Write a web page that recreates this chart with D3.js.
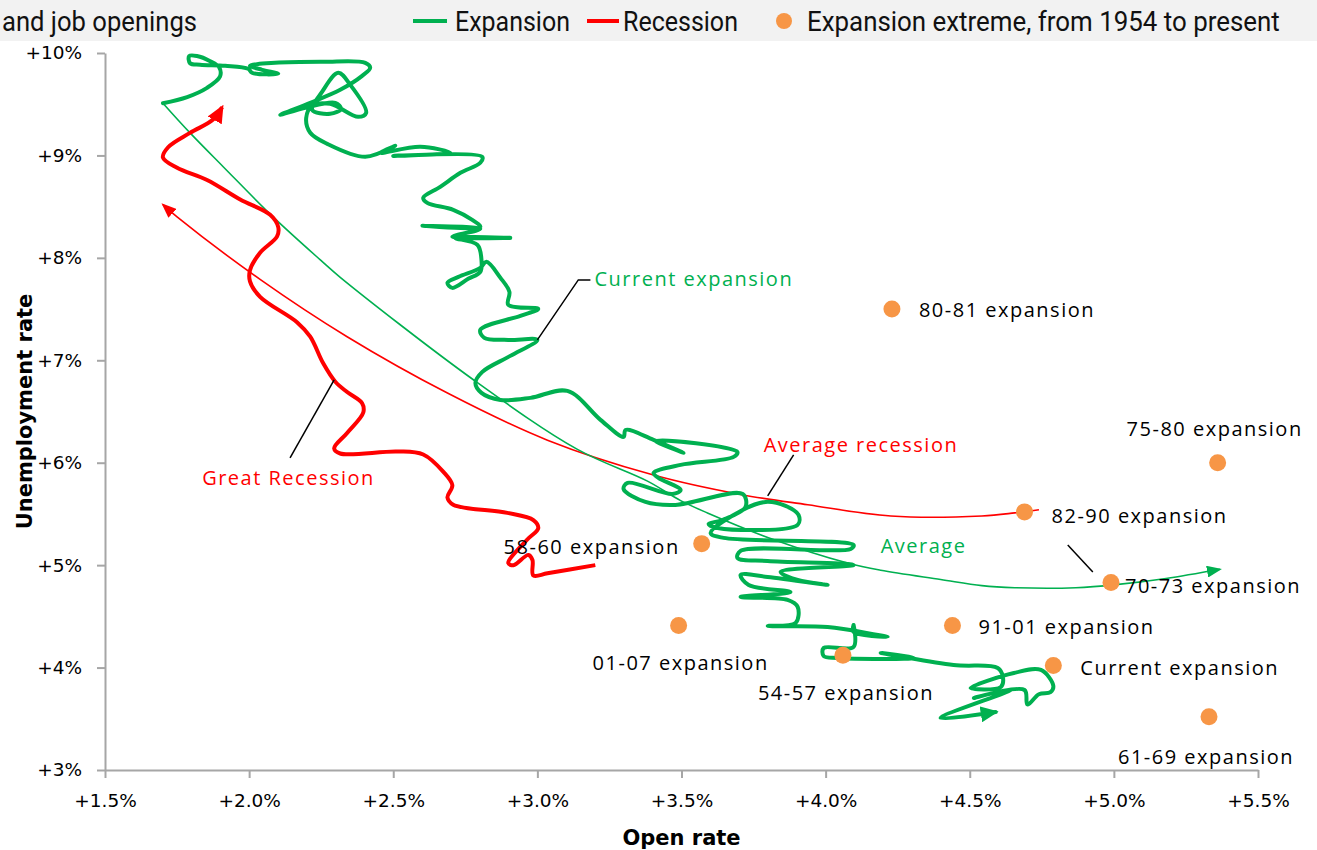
<!DOCTYPE html>
<html><head><meta charset="utf-8">
<script src="https://cdn.jsdelivr.net/npm/d3@7"></script>
<style>body{margin:0;background:#fff;} svg{display:block}</style>
</head><body><svg id="c" width="1317" height="850"></svg>
<script>
// ---------- DATA ----------
const titleText = "and job openings";
const xTicks = [1.5, 2.0, 2.5, 3.0, 3.5, 4.0, 4.5, 5.0, 5.5];
const yTicks = [3, 4, 5, 6, 7, 8, 9, 10];

// Expansion extremes (open rate %, unemployment rate %)
const extremeNames = ["80-81 expansion","75-80 expansion","82-90 expansion","58-60 expansion","70-73 expansion","01-07 expansion","91-01 expansion","54-57 expansion","Current expansion","61-69 expansion"];
const extremeOpen  = [4.23, 5.36, 4.69, 3.57, 4.99, 3.49, 4.44, 4.06, 4.79, 5.33];
const extremeUnemp = [7.50, 6.00, 5.52, 5.21, 4.83, 4.41, 4.41, 4.12, 4.02, 3.52];

// Average expansion
const avgOpen  = [1.701,1.795,1.910,2.083,2.247,2.316,2.778,3.139,3.382,3.497,3.590,3.819,4.076,4.191,4.399,4.542,4.656,4.868,5.007,5.181,5.368];
const avgUnemp = [9.51,9.22,8.89,8.40,7.98,7.81,6.81,6.13,5.82,5.63,5.51,5.25,5.02,4.95,4.86,4.80,4.78,4.78,4.81,4.87,4.96];

// Average recession
const avgRecOpen  = [4.740,4.656,4.542,4.226,3.938,3.705,3.403,3.035,2.688,2.340,2.038,1.750,1.701];
const avgRecUnemp = [5.54,5.51,5.48,5.48,5.59,5.69,5.88,6.22,6.68,7.23,7.79,8.40,8.52];

// Great Recession
const grOpen  = [3.201,3.035,2.986,2.983,2.969,2.917,2.899,2.965,3.003,2.986,2.896,2.708,2.688,2.705,2.674,2.604,2.514,2.316,2.295,2.340,2.396,2.392,2.340,2.299,2.257,2.212,2.167,2.038,2.003,2.003,2.038,2.097,2.101,2.073,1.969,1.854,1.750,1.701,1.719,1.795,1.875,1.906];
const grUnemp = [5.00,4.92,4.90,5.05,5.10,5.00,5.02,5.25,5.36,5.44,5.51,5.59,5.66,5.78,5.91,6.08,6.11,6.09,6.14,6.29,6.49,6.58,6.69,6.79,6.97,7.23,7.37,7.62,7.77,7.88,8.05,8.21,8.30,8.42,8.57,8.76,8.88,8.98,9.08,9.22,9.35,9.47];

// Current expansion
const curOpen = [1.701,1.785,1.854,1.899,1.896,1.865,1.819,1.792,1.795,1.830,1.917,1.997,2.010,2.101,2.045,2.003,2.090,2.257,2.403,2.420,2.392,2.316,2.212,2.108,2.194,2.299,2.319,2.281,2.219,2.253,2.309,2.351,2.406,2.378,2.281,2.219,2.198,2.212,2.271,2.403,2.507,2.455,2.594,2.698,2.500,2.809,2.802,2.733,2.663,2.604,2.618,2.708,2.774,2.802,2.601,2.802,2.705,2.906,2.715,2.792,2.806,2.802,2.760,2.705,2.688,2.726,2.802,2.823,2.872,2.903,2.899,3.003,2.941,2.802,2.816,2.899,3.000,2.906,2.809,2.785,2.806,2.872,2.976,3.104,3.219,3.299,3.306,3.403,3.507,3.410,3.694,3.681,3.497,3.403,3.420,3.497,3.469,3.313,3.299,3.375,3.479,3.712,3.722,3.642,3.594,3.625,3.903,3.906,3.861,3.792,3.712,3.601,3.646,4.097,4.087,3.705,3.694,3.799,4.097,3.844,3.903,4.007,3.799,3.705,3.733,3.878,3.705,3.868,3.903,3.896,3.799,4.007,4.215,4.097,4.097,4.097,3.993,3.993,4.042,4.306,4.191,4.444,4.597,4.615,4.608,4.503,4.653,4.747,4.790,4.780,4.740,4.700,4.690,4.514,4.642,4.399,4.590];
const curUnemp = [9.51,9.57,9.66,9.77,9.86,9.92,9.97,9.97,9.90,9.885,9.875,9.846,9.807,9.797,9.836,9.875,9.904,9.914,9.904,9.856,9.777,9.641,9.514,9.396,9.465,9.514,9.455,9.406,9.445,9.621,9.807,9.689,9.416,9.377,9.504,9.484,9.367,9.221,9.113,8.986,9.094,9.025,9.084,9.025,8.996,8.986,8.928,8.830,8.693,8.586,8.537,8.469,8.371,8.303,8.313,8.283,8.205,8.195,8.195,8.127,7.980,7.863,7.795,7.707,7.756,7.814,7.902,7.961,7.805,7.668,7.541,7.502,7.434,7.297,7.219,7.199,7.199,7.043,6.887,6.779,6.682,6.613,6.633,6.701,6.418,6.252,6.320,6.223,6.096,6.213,6.105,6.057,5.979,5.900,5.852,5.734,5.695,5.803,5.744,5.617,5.588,5.695,5.568,5.441,5.402,5.363,5.393,5.490,5.578,5.617,5.539,5.314,5.266,5.197,5.158,5.139,5.070,5.041,5.002,4.934,4.855,4.807,4.885,4.904,4.807,4.738,4.689,4.660,4.592,4.436,4.406,4.396,4.299,4.348,4.416,4.201,4.191,4.113,4.094,4.094,4.143,4.025,3.996,3.908,3.811,3.801,3.947,3.977,3.820,3.760,3.740,3.640,3.781,3.703,3.781,3.508,3.566];

// Annotations (text, value-space anchor)
const annoTexts = ["Current expansion","Average recession","Great Recession","Average"];
const annoOpen  = [3.198, 3.785, 1.837, 4.191];
const annoUnemp = [7.795, 6.174, 5.852, 5.188];
// Leader lines (value coords)
const leaderCurrent = [[3.000,7.199],[3.142,7.785],[3.184,7.785]];
const leaderAvgRec  = [[3.799,5.676],[3.889,6.076]];
const leaderGreat   = [[2.295,6.809],[2.142,6.047]];
const leader7073    = [[4.840,5.197],[4.927,4.934]];

const legendItems = ["Expansion","Recession","Expansion extreme, from 1954 to present"];

// ---------- STYLE / LAYOUT ----------
const GREEN = "#00b050", RED = "#ff0000", ORANGE = "#f79646";
const svg = d3.select("#c");
const x = d3.scaleLinear().domain([1.5, 5.5]).range([105, 1258]);
const y = d3.scaleLinear().domain([3, 10]).range([770, 53]);

const extremeLayout = [
  {dx:27, dy:1, a:"start"}, {dx:-3, dy:-34, a:"middle"}, {dx:27, dy:4, a:"start"},
  {dx:-22, dy:3, a:"end"}, {dx:14, dy:3, a:"start"}, {dx:2, dy:37, a:"middle"},
  {dx:26, dy:1, a:"start"}, {dx:3, dy:38, a:"middle"}, {dx:27, dy:2, a:"start"},
  {dx:-3, dy:40, a:"middle"}
];

// header band
svg.append("rect").attr("x",0).attr("y",0).attr("width",1317).attr("height",41).attr("fill","#f2f2f2");
const hdrFont = "Roboto, 'Liberation Sans Narrow', sans-serif";
function hdrText(t, x0, w){
  const g = svg.append("g");
  const tx = g.append("text").attr("x",0).attr("y",0).attr("font-family",hdrFont).attr("font-size",28)
    .attr("fill","#111").text(t);
  const nat = tx.node().getComputedTextLength();
  const sx = nat > 0 ? w / nat : 1;
  g.attr("transform",`translate(${x0},31) scale(${sx},1)`);
}
hdrText(titleText, 2, 195);
svg.append("line").attr("x1",413).attr("x2",447).attr("y1",21).attr("y2",21).attr("stroke",GREEN).attr("stroke-width",4);
hdrText(legendItems[0], 455, 115);
svg.append("line").attr("x1",587).attr("x2",619).attr("y1",21).attr("y2",21).attr("stroke",RED).attr("stroke-width",4);
hdrText(legendItems[1], 623, 115);
svg.append("circle").attr("cx",784).attr("cy",21).attr("r",8).attr("fill",ORANGE);
hdrText(legendItems[2], 807, 473);

// markers
const defs = svg.append("defs");
function marker(id, color, len, wid, ref){
  defs.append("marker").attr("id",id).attr("markerUnits","userSpaceOnUse")
    .attr("viewBox",`0 0 ${len} ${wid}`).attr("markerWidth",len).attr("markerHeight",wid)
    .attr("refX",ref).attr("refY",wid/2).attr("orient","auto")
    .append("path").attr("d",`M0,0 L${len},${wid/2} L0,${wid} Z`).attr("fill",color);
}
marker("arrG", GREEN, 18, 16, 15);
marker("arrR", RED, 18, 16, 15);
marker("arrGt", GREEN, 15, 12, 13);
marker("arrRt", RED, 15, 12, 13);

// axes
const axisColor = "#a6a6a6";
const tickFont = "'DejaVu Sans',sans-serif";
const gx = svg.append("g").attr("transform",`translate(0,${y(3)})`)
  .call(d3.axisBottom(x).tickValues(xTicks).tickSize(8).tickSizeOuter(0).tickPadding(16)
    .tickFormat(d => "+" + d3.format(".1f")(d) + "%"));
const gy = svg.append("g").attr("transform",`translate(${x(1.5)},0)`)
  .call(d3.axisLeft(y).tickValues(yTicks).tickSize(8).tickSizeOuter(0).tickPadding(15)
    .tickFormat(d => "+" + d + "%"));
[gx, gy].forEach(g => {
  g.select(".domain").attr("stroke",axisColor).attr("stroke-width",2);
  g.selectAll(".tick line").attr("stroke",axisColor).attr("stroke-width",2);
  g.selectAll(".tick text").attr("font-family",tickFont).attr("font-size",18.5).attr("fill","#000");
});
svg.append("text").attr("x",(x(1.5)+x(5.5))/2).attr("y",845).attr("text-anchor","middle")
  .attr("font-family","'DejaVu Sans',sans-serif").attr("font-weight","bold").attr("font-size",21).text("Open rate");
svg.append("text").attr("transform",`translate(32,${(y(3)+y(10))/2}) rotate(-90)`).attr("text-anchor","middle")
  .attr("font-family","'DejaVu Sans',sans-serif").attr("font-weight","bold").attr("font-size",21).text("Unemployment rate");

// lines
const zip = (a,b) => a.map((v,i)=>[v,b[i]]);
const lineGen = d3.line().x(d=>x(d[0])).y(d=>y(d[1])).curve(d3.curveCatmullRom.alpha(0.5));
const linLine = d3.line().x(d=>x(d[0])).y(d=>y(d[1]));

svg.append("path").datum(zip(avgRecOpen,avgRecUnemp)).attr("d",lineGen)
  .attr("fill","none").attr("stroke",RED).attr("stroke-width",1.6).attr("marker-end","url(#arrRt)");
svg.append("path").datum(zip(avgOpen,avgUnemp)).attr("d",lineGen)
  .attr("fill","none").attr("stroke",GREEN).attr("stroke-width",1.6).attr("marker-end","url(#arrGt)");
svg.append("path").datum(zip(grOpen,grUnemp)).attr("d",lineGen)
  .attr("fill","none").attr("stroke",RED).attr("stroke-width",4).attr("stroke-linejoin","round").attr("marker-end","url(#arrR)");
svg.append("path").datum(zip(curOpen,curUnemp)).attr("d",lineGen)
  .attr("fill","none").attr("stroke",GREEN).attr("stroke-width",4).attr("stroke-linejoin","round").attr("stroke-linecap","round").attr("marker-end","url(#arrG)");

// leader lines
[leaderCurrent, leaderAvgRec, leaderGreat, leader7073].forEach(L => {
  svg.append("path").datum(L).attr("d",linLine).attr("fill","none").attr("stroke","#000").attr("stroke-width",1.5);
});

// extreme points
const labFont = "'Open Sans',sans-serif";
const ext = extremeNames.map((n,i)=>({n, o:extremeOpen[i], u:extremeUnemp[i], L:extremeLayout[i]}));
svg.selectAll("circle.ext").data(ext).join("circle").attr("class","ext")
  .attr("cx",d=>x(d.o)).attr("cy",d=>y(d.u)).attr("r",8.5).attr("fill",ORANGE);
svg.selectAll("text.ext").data(ext).join("text").attr("class","ext")
  .attr("x",d=>x(d.o)+d.L.dx).attr("y",d=>y(d.u)+d.L.dy).attr("dy","0.35em")
  .attr("text-anchor",d=>d.L.a).attr("font-family",labFont).attr("font-size",20)
  .attr("letter-spacing",1.5).attr("fill","#000").text(d=>d.n);

// annotations
const annoColors = [GREEN, RED, RED, GREEN];
annoTexts.forEach((t,i)=>{
  svg.append("text").attr("x",x(annoOpen[i])).attr("y",y(annoUnemp[i])).attr("dy","0.35em")
    .attr("font-family",labFont).attr("font-size",20).attr("letter-spacing",1.5)
    .attr("fill",annoColors[i]).text(t);
});
</script></body></html>
